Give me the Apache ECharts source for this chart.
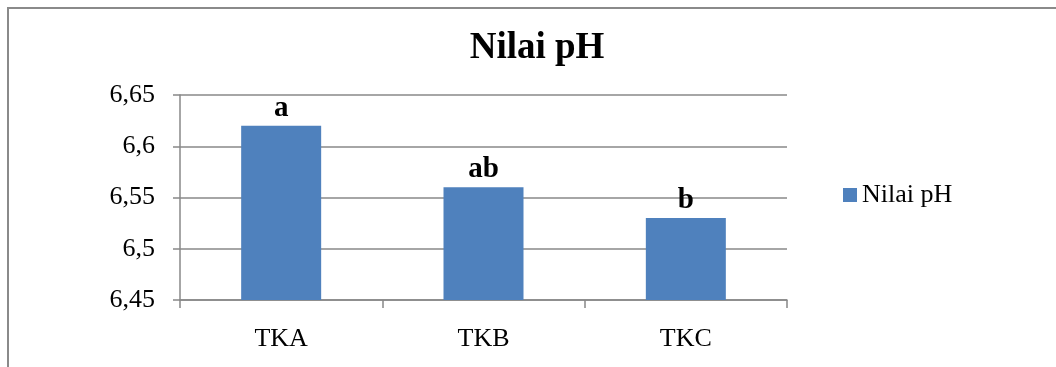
<!DOCTYPE html>
<html>
<head>
<meta charset="utf-8">
<script src="https://cdn.jsdelivr.net/npm/echarts@6/dist/echarts.min.js"></script>
<style>
html,body{margin:0;padding:0;background:#fff;}
#c{width:1056px;height:367px;}
</style>
</head>
<body>
<div id="c"></div>
<script>
const categories = ['TKA', 'TKB', 'TKC'];
const phValues = [6.62, 6.56, 6.53];
const sigLabels = ['a', 'ab', 'b'];
const seriesName = 'Nilai pH';
const titleText = 'Nilai pH';

const serif = '"Liberation Serif", "Times New Roman", serif';
const chart = echarts.init(document.getElementById('c'));
chart.setOption({
  animation: false,
  backgroundColor: '#fff',
  title: {
    text: titleText,
    left: 532, top: 25, textAlign: 'center',
    textStyle: {fontFamily: serif, fontSize: 37, fontWeight: 'bold', color: '#000'}
  },
  legend: {
    data: [seriesName],
    left: 838, top: 177,
    icon: 'rect', itemWidth: 14, itemHeight: 14, itemGap: 6,
    textStyle: {fontFamily: serif, fontSize: 26, color: '#000', padding: [0,0,0,0]}
  },
  grid: {left: 180, right: 269, top: 95, bottom: 67, containLabel: false},
  xAxis: {
    type: 'category', data: categories,
    axisLine: {lineStyle: {color: '#888', width: 1.5}},
    axisTick: {show: true, length: 8, lineStyle: {color: '#888', width: 1.5}},
    axisLabel: {fontFamily: serif, fontSize: 26, color: '#000', margin: 26}
  },
  yAxis: {
    type: 'value', min: 6.45, max: 6.65, interval: 0.05,
    axisLine: {show: true, lineStyle: {color: '#888', width: 1.5}},
    axisTick: {show: true, length: 7, lineStyle: {color: '#888', width: 1.5}},
    splitLine: {lineStyle: {color: '#888', width: 1.5}},
    axisLabel: {
      fontFamily: serif, fontSize: 26, color: '#000', margin: 25,
      formatter: v => String(Math.round(v * 100) / 100).replace('.', ',')
    }
  },
  graphic: [{
    type: 'polyline',
    shape: {points: [[8, 367], [8, 8], [1056, 8]]},
    style: {stroke: '#8a8a8a', lineWidth: 2, fill: null}
  }],
  series: [{
    name: seriesName, type: 'bar', data: phValues,
    barWidth: 80,
    itemStyle: {color: '#4f81bd'},
    label: {
      show: true, position: 'top', distance: 3,
      formatter: p => sigLabels[p.dataIndex],
      fontFamily: serif, fontSize: 29, fontWeight: 'bold', color: '#000'
    }
  }]
});
</script>
</body>
</html>
